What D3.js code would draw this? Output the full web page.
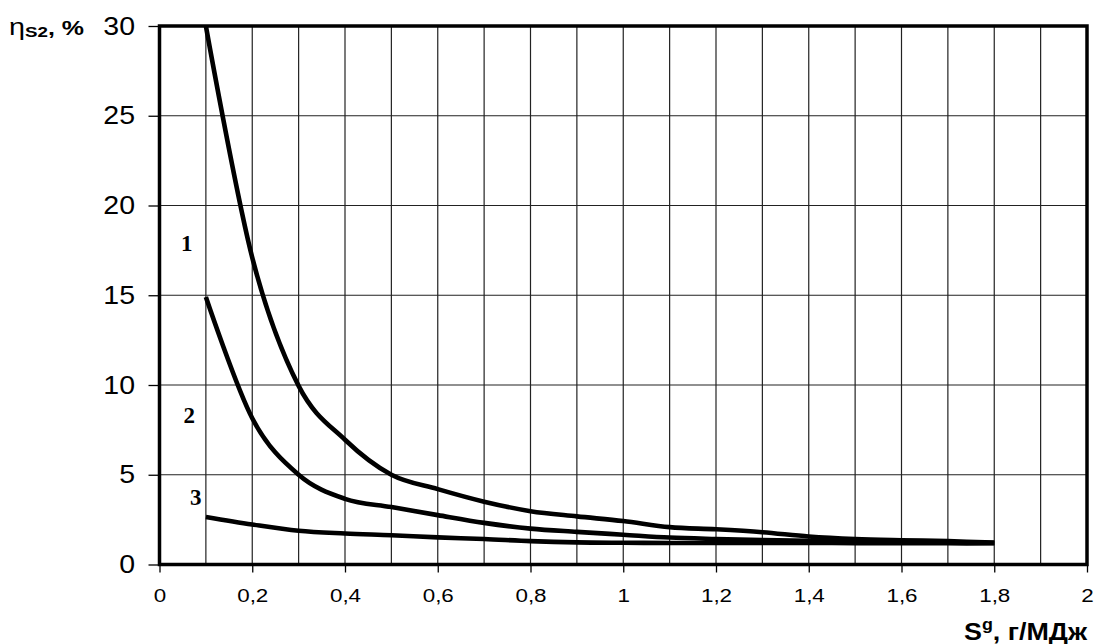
<!DOCTYPE html>
<html><head><meta charset="utf-8">
<script src="https://cdn.jsdelivr.net/npm/d3@7"></script>
<style>body{margin:0;background:#fff}svg{display:block}</style>
</head><body>
<script>
// ---- data ----
const xTicks = [0,0.2,0.4,0.6,0.8,1,1.2,1.4,1.6,1.8,2];
const yTicks = [0,5,10,15,20,25,30];
const sValues = [0.1,0.2,0.3,0.4,0.5,0.6,0.7,0.8,0.9,1.0,1.1,1.2,1.3,1.4,1.5,1.6,1.7,1.8];
const curve1Y = [30,17.1,9.95,6.95,5.0,4.2,3.5,2.97,2.68,2.42,2.08,1.96,1.8,1.56,1.42,1.35,1.3,1.22];
const curve2Y = [14.9,8.15,5.0,3.66,3.2,2.75,2.32,2.0,1.82,1.66,1.5,1.42,1.36,1.32,1.28,1.26,1.23,1.2];
const curve3Y = [2.65,2.23,1.88,1.73,1.63,1.51,1.42,1.3,1.23,1.21,1.2,1.2,1.2,1.2,1.19,1.19,1.18,1.18];
const curveLabels = ["1","2","3"];
const labelX = [0.059,0.064,0.078];
const labelY = [17.9,8.3,3.76];

const W = 1095, H = 644;
const svg = d3.select("body").append("svg").attr("width",W).attr("height",H);
const x = d3.scaleLinear().domain([0,2]).range([159.5,1087]);
const y = d3.scaleLinear().domain([0,30]).range([564.5,26]);
const SANS = "'Liberation Sans', Arial, sans-serif";

// grid
const gridX = d3.range(1,20).map(i=>i/10);
svg.append("g").selectAll("line").data(gridX).join("line")
  .attr("x1",d=>x(d)).attr("x2",d=>x(d)).attr("y1",y(30)).attr("y2",y(0))
  .attr("stroke","#222").attr("stroke-width",1.2);
svg.append("g").selectAll("line").data(yTicks.filter(d=>d>0&&d<30)).join("line")
  .attr("x1",x(0)).attr("x2",x(2)).attr("y1",d=>y(d)).attr("y2",d=>y(d))
  .attr("stroke","#222").attr("stroke-width",1.2);

// axes
const fmt = d => d3.format("~g")(+d.toFixed(1)).replace(".",",");
const xAxis = svg.append("g").attr("transform",`translate(0,${y(0)})`)
  .call(d3.axisBottom(x).tickValues(xTicks).tickFormat(fmt).tickSize(8).tickPadding(16));
xAxis.select(".domain").remove();
xAxis.selectAll("line").attr("stroke","#000").attr("stroke-width",1.3);
xAxis.selectAll("text").attr("font-family",SANS).attr("font-size",19).attr("fill","#000")
  .attr("transform","scale(1.18,1)");

const yAxis = svg.append("g").attr("transform",`translate(${x(0)},0)`)
  .call(d3.axisLeft(y).tickValues(yTicks).tickSize(11).tickPadding(11));
yAxis.select(".domain").remove();
yAxis.selectAll("line").attr("stroke","#000").attr("stroke-width",1.3);
yAxis.selectAll("text").attr("font-family",SANS).attr("font-size",25).attr("fill","#000")
  .attr("transform","scale(1.14,1)").attr("x",-21.5);

// frame
svg.append("rect").attr("x",x(0)).attr("y",y(30)).attr("width",x(2)-x(0)).attr("height",y(0)-y(30))
  .attr("fill","none").attr("stroke","#000").attr("stroke-width",3.5);

// curves (smoothed like the original spreadsheet line)
const line = d3.line().x(d=>x(d[0])).y(d=>y(d[1])).curve(d3.curveCatmullRom.alpha(0));
[curve1Y,curve2Y,curve3Y].forEach(cy=>{
  svg.append("path").datum(sValues.map((v,i)=>[v,cy[i]])).attr("d",line)
    .attr("fill","none").attr("stroke","#000").attr("stroke-width",4.6).attr("stroke-linecap","butt");
});

// curve labels
svg.append("g").selectAll("text").data(curveLabels).join("text")
  .attr("x",(d,i)=>x(labelX[i])).attr("y",(d,i)=>y(labelY[i]))
  .attr("text-anchor","middle").attr("dominant-baseline","central")
  .attr("font-family","'Liberation Serif', 'Times New Roman', serif").attr("font-weight","bold").attr("font-size",23)
  .text(d=>d);

// y title
const yt = svg.append("text").attr("transform","translate(9,35) scale(1.25,1)").attr("font-family",SANS).attr("fill","#000");
yt.append("tspan").attr("font-size",23).text("η");
yt.append("tspan").attr("font-size",15).attr("font-weight","bold").attr("dy",2).text("S2");
yt.append("tspan").attr("font-size",20).attr("font-weight","bold").attr("dy",-2).text(", %");

// x title
const xt = svg.append("text").attr("transform","translate(1087,640) scale(1.12,1)").attr("text-anchor","end")
  .attr("font-family",SANS).attr("font-weight","bold").attr("fill","#000");
xt.append("tspan").attr("font-size",24).text("S");
xt.append("tspan").attr("font-size",16).attr("dy",-10).text("g");
xt.append("tspan").attr("font-size",24).attr("dy",10).text(", г/МДж");
</script>
</body></html>
